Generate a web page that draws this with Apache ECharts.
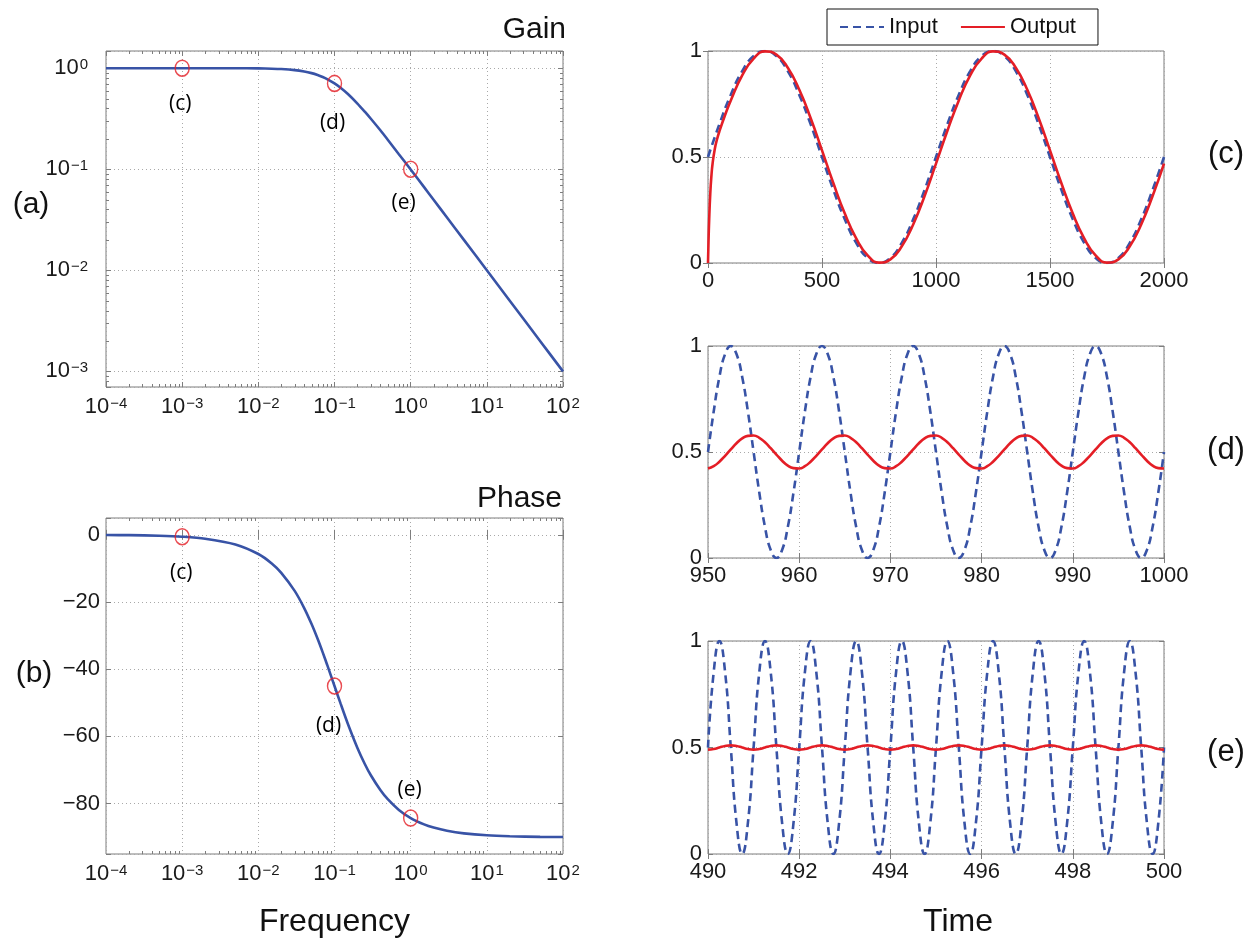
<!DOCTYPE html>
<html>
<head>
<meta charset="utf-8">
<script src="https://cdn.jsdelivr.net/npm/echarts@6.0.0/dist/echarts.min.js"></script>
<style>
html,body{margin:0;padding:0;background:#ffffff;}
#chart{width:1249px;height:941px;}
</style>
</head>
<body>
<div id="chart"></div>
<script>
// ---------------- data ----------------
// Bode plot (a) gain and (b) phase
const FREQ  = [1e-4, 2e-4, 5e-4, 1e-3, 2e-3, 5e-3, 0.01, 0.015, 0.02, 0.03, 0.04, 0.05, 0.06, 0.07, 0.08,
               0.1, 0.12, 0.15, 0.2, 0.25, 0.3, 0.4, 0.5, 0.7, 1, 1.5, 2, 3, 5, 10, 20, 50, 100];
const GAIN  = [1.0, 1.0, 1.0, 1.0, 0.9998, 0.9988, 0.995, 0.989, 0.981, 0.958, 0.928, 0.894, 0.857, 0.819, 0.781,
               0.707, 0.640, 0.555, 0.447, 0.371, 0.316, 0.243, 0.196, 0.141, 0.0995, 0.0665, 0.0499, 0.0333, 0.020, 0.010, 0.005, 0.002, 0.001];
const PHASE = [-0.06, -0.11, -0.29, -0.57, -1.15, -2.86, -5.71, -8.53, -11.31, -16.70, -21.80, -26.57, -30.96, -34.99, -38.66,
               -45.0, -50.19, -56.31, -63.43, -68.20, -71.57, -75.96, -78.69, -81.87, -84.29, -86.19, -87.14, -88.09, -88.85, -89.43, -89.71, -89.89, -89.94];
// red circled points
const MARK_FREQ  = [1e-3, 0.1, 1];
const MARK_GAIN  = [1.0, 0.707, 0.1];
const MARK_PHASE = [-0.57, -45, -84.3];
const MARK_NAMES = ['(c)', '(d)', '(e)'];
// log-axis tick exponents and minor multipliers
const X_EXPONENTS = [-4, -3, -2, -1, 0, 1, 2];
const Y_EXPONENTS = [-3, -2, -1, 0];
const MINOR_MULT = [2, 3, 4, 5, 6, 7, 8, 9];

// (c) time 0..2000
const T_C_IN = [0,50,100,150,200,250,300,350,400,450,500,550,600,650,700,750,800,850,900,950,
                1000,1050,1100,1150,1200,1250,1300,1350,1400,1450,1500,1550,1600,1650,1700,1750,1800,1850,1900,1950,2000];
const IN_C   = [0.5,0.655,0.794,0.905,0.976,1,0.976,0.905,0.794,0.655,0.5,0.345,0.206,0.095,0.024,0,0.024,0.095,0.206,0.345,
                0.5,0.655,0.794,0.905,0.976,1,0.976,0.905,0.794,0.655,0.5,0.345,0.206,0.095,0.024,0,0.024,0.095,0.206,0.345,0.5];
const T_C_OUT = [0,2,5,10,15,20,30,40,50,75,100,150,200,250,300,350,400,450,500,550,600,650,700,750,800,850,900,950,
                 1000,1050,1100,1150,1200,1250,1300,1350,1400,1450,1500,1550,1600,1650,1700,1750,1800,1850,1900,1950,2000];
const OUT_C  = [0,0.091,0.2,0.328,0.411,0.468,0.539,0.585,0.621,0.698,0.767,0.885,0.964,0.998,0.983,0.921,0.818,0.684,0.531,0.376,0.233,0.116,0.036,0.002,0.017,0.079,0.182,0.316,
                0.469,0.624,0.767,0.885,0.964,0.998,0.983,0.921,0.818,0.684,0.531,0.376,0.233,0.116,0.036,0.002,0.017,0.079,0.182,0.316,0.469];

// (d) time 950..1000
const T_D = [950,950.625,951.25,951.875,952.5,953.125,953.75,954.375,955,955.625,956.25,956.875,957.5,958.125,958.75,959.375,
             960,960.625,961.25,961.875,962.5,963.125,963.75,964.375,965,965.625,966.25,966.875,967.5,968.125,968.75,969.375,
             970,970.625,971.25,971.875,972.5,973.125,973.75,974.375,975,975.625,976.25,976.875,977.5,978.125,978.75,979.375,
             980,980.625,981.25,981.875,982.5,983.125,983.75,984.375,985,985.625,986.25,986.875,987.5,988.125,988.75,989.375,
             990,990.625,991.25,991.875,992.5,993.125,993.75,994.375,995,995.625,996.25,996.875,997.5,998.125,998.75,999.375,
             1000];
const IN_D = [0.5,0.691,0.854,0.962,1,0.962,0.854,0.691,0.5,0.309,0.146,0.038,0,0.038,0.146,0.309,
              0.5,0.691,0.854,0.962,1,0.962,0.854,0.691,0.5,0.309,0.146,0.038,0,0.038,0.146,0.309,
              0.5,0.691,0.854,0.962,1,0.962,0.854,0.691,0.5,0.309,0.146,0.038,0,0.038,0.146,0.309,
              0.5,0.691,0.854,0.962,1,0.962,0.854,0.691,0.5,0.309,0.146,0.038,0,0.038,0.146,0.309,
              0.5,0.691,0.854,0.962,1,0.962,0.854,0.691,0.5,0.309,0.146,0.038,0,0.038,0.146,0.309,
              0.5];
const OUT_D = [0.422,0.433,0.454,0.482,0.512,0.541,0.564,0.576,0.578,0.567,0.546,0.518,0.488,0.459,0.436,0.424,
               0.422,0.433,0.454,0.482,0.512,0.541,0.564,0.576,0.578,0.567,0.546,0.518,0.488,0.459,0.436,0.424,
               0.422,0.433,0.454,0.482,0.512,0.541,0.564,0.576,0.578,0.567,0.546,0.518,0.488,0.459,0.436,0.424,
               0.422,0.433,0.454,0.482,0.512,0.541,0.564,0.576,0.578,0.567,0.546,0.518,0.488,0.459,0.436,0.424,
               0.422,0.433,0.454,0.482,0.512,0.541,0.564,0.576,0.578,0.567,0.546,0.518,0.488,0.459,0.436,0.424,
               0.422];

// (e) time 490..500
const T_E = [490,490.125,490.25,490.375,490.5,490.625,490.75,490.875,
             491,491.125,491.25,491.375,491.5,491.625,491.75,491.875,
             492,492.125,492.25,492.375,492.5,492.625,492.75,492.875,
             493,493.125,493.25,493.375,493.5,493.625,493.75,493.875,
             494,494.125,494.25,494.375,494.5,494.625,494.75,494.875,
             495,495.125,495.25,495.375,495.5,495.625,495.75,495.875,
             496,496.125,496.25,496.375,496.5,496.625,496.75,496.875,
             497,497.125,497.25,497.375,497.5,497.625,497.75,497.875,
             498,498.125,498.25,498.375,498.5,498.625,498.75,498.875,
             499,499.125,499.25,499.375,499.5,499.625,499.75,499.875,
             500];
const IN_E = [0.5,0.854,1,0.854,0.5,0.146,0,0.146, 0.5,0.854,1,0.854,0.5,0.146,0,0.146,
              0.5,0.854,1,0.854,0.5,0.146,0,0.146, 0.5,0.854,1,0.854,0.5,0.146,0,0.146,
              0.5,0.854,1,0.854,0.5,0.146,0,0.146, 0.5,0.854,1,0.854,0.5,0.146,0,0.146,
              0.5,0.854,1,0.854,0.5,0.146,0,0.146, 0.5,0.854,1,0.854,0.5,0.146,0,0.146,
              0.5,0.854,1,0.854,0.5,0.146,0,0.146, 0.5,0.854,1,0.854,0.5,0.146,0,0.146,
              0.5];
const OUT_E = [0.49,0.493,0.5,0.507,0.51,0.507,0.5,0.493, 0.49,0.493,0.5,0.507,0.51,0.507,0.5,0.493,
               0.49,0.493,0.5,0.507,0.51,0.507,0.5,0.493, 0.49,0.493,0.5,0.507,0.51,0.507,0.5,0.493,
               0.49,0.493,0.5,0.507,0.51,0.507,0.5,0.493, 0.49,0.493,0.5,0.507,0.51,0.507,0.5,0.493,
               0.49,0.493,0.5,0.507,0.51,0.507,0.5,0.493, 0.49,0.493,0.5,0.507,0.51,0.507,0.5,0.493,
               0.49,0.493,0.5,0.507,0.51,0.507,0.5,0.493, 0.49,0.493,0.5,0.507,0.51,0.507,0.5,0.493,
               0.49];

// ---------------- styling ----------------
const FONT = '"Liberation Sans", Arial, Helvetica, sans-serif';
const MARK_FONT = '"Open Sans", "DejaVu Sans", sans-serif';
const AX = '#7d7d7d';
const TXT = '#1a1a1a';
const BLUE = '#3853a6';
const RED = '#e41e26';
const GRID_LINE = {show: true, lineStyle: {color: '#a9a9a9', width: 1, type: [1, 3]}};

const zip = (xs, ys) => xs.map((x, i) => [x, ys[i]]);

const MINOR_X = [];
X_EXPONENTS.slice(0, -1).forEach(e => MINOR_MULT.forEach(m => MINOR_X.push(m * Math.pow(10, e))));
const Y_MIN_A = 7.0e-4, Y_MAX_A = 1.48;
const MINOR_Y = [];
[-4].concat(Y_EXPONENTS.slice(0, -1)).forEach(e => MINOR_MULT.forEach(m => {
  const v = m * Math.pow(10, e);
  if (v > Y_MIN_A * 1.01 && v < Y_MAX_A) MINOR_Y.push(v);
}));

function logFmt(v) {
  const l = Math.log10(v);
  const e = Math.round(l);
  if (Math.abs(l - e) > 1e-6) return '';
  return '{b|10}{s|' + (e < 0 ? '\u2212' : '') + Math.abs(e) + '}';
}
const LOG_RICH = {
  b: {fontSize: 22, lineHeight: 22, fontFamily: FONT, color: TXT, verticalAlign: 'bottom'},
  s: {fontSize: 15, lineHeight: 15, padding: [0, 0, 13, 1], fontFamily: FONT, color: TXT, verticalAlign: 'top'}
};
const LIN_LABEL = {show: true, fontSize: 22, fontFamily: FONT, color: TXT, margin: 6, formatter: v => String(v)};

function axisPair(kind, gridIndex, base, label) {
  const tick = {show: true, inside: true, length: 5, lineStyle: {color: AX, width: 1}};
  const main = Object.assign({}, base, {
    gridIndex, position: kind === 'x' ? 'bottom' : 'left',
    axisLine: {show: false}, axisTick: tick, splitLine: GRID_LINE, axisLabel: label,
    axisPointer: {show: false}
  });
  const twin = Object.assign({}, base, {
    gridIndex, position: kind === 'x' ? 'top' : 'right',
    axisLine: {show: false}, axisTick: tick, splitLine: {show: false}, axisLabel: {show: false},
    axisPointer: {show: false}
  });
  return [main, twin];
}

const logX = {type: 'log', logBase: 10, min: 1e-4, max: 100};
const logXLabel = {show: true, margin: 9, formatter: logFmt, rich: LOG_RICH};
const timeXLabel = Object.assign({}, LIN_LABEL, {margin: 7});

const xAxis = [].concat(
  axisPair('x', 0, logX, logXLabel),
  axisPair('x', 1, logX, logXLabel),
  axisPair('x', 2, {type: 'value', min: 0, max: 2000, interval: 500}, timeXLabel),
  axisPair('x', 3, {type: 'value', min: 950, max: 1000, interval: 10}, timeXLabel),
  axisPair('x', 4, {type: 'value', min: 490, max: 500, interval: 2}, timeXLabel)
);
const timeY = {type: 'value', min: 0, max: 1, interval: 0.5};
const yAxis = [].concat(
  axisPair('y', 0, {type: 'log', logBase: 10, min: Y_MIN_A, max: Y_MAX_A},
           {show: true, margin: 18, formatter: logFmt, rich: LOG_RICH}),
  axisPair('y', 1, {type: 'value', min: -95, max: 5},
           Object.assign({}, LIN_LABEL, {formatter: v => (Math.abs(v % 20) < 1e-9 ? (v < 0 ? '\u2212' + (-v) : String(v)) : '')})),
  axisPair('y', 2, timeY, LIN_LABEL),
  axisPair('y', 3, timeY, LIN_LABEL),
  axisPair('y', 4, timeY, LIN_LABEL)
);

const grid = [
  {left: 106, top: 51, width: 457, height: 336},
  {left: 106, top: 518, width: 457, height: 336},
  {left: 708, top: 51, width: 456, height: 212},
  {left: 708, top: 346, width: 456, height: 212},
  {left: 708, top: 641, width: 456, height: 213}
].map(g => Object.assign({show: true, borderColor: AX, borderWidth: 1, backgroundColor: 'transparent',
                          containLabel: false, outerBoundsMode: 'none'}, g));

const A_LABEL_OFFSETS = [[-2, 36], [-2, 40], [-7, 34]];
const B_LABEL_OFFSETS = [[-1, 36], [-6, 40], [-1, -28]];

function markerSeries(ax, ys, offsets) {
  return {
    type: 'scatter', xAxisIndex: ax, yAxisIndex: ax, symbol: 'circle', symbolSize: [14, 16],
    silent: true, z: 6, animation: false,
    itemStyle: {color: 'rgba(0,0,0,0)', borderColor: RED, borderWidth: 1.5},
    label: {show: true, position: 'inside', formatter: p => MARK_NAMES[p.dataIndex],
            fontFamily: MARK_FONT, fontSize: 21, color: '#000', textBorderWidth: 0,
            textBorderColor: 'transparent', opacity: 1},
    data: MARK_FREQ.map((f, i) => ({value: [f, ys[i]], label: {offset: offsets[i], color: '#000'}}))
  };
}

function minorTickSeries(ax, yLo, yHi, withY) {
  return {
    type: 'custom', xAxisIndex: ax, yAxisIndex: ax, silent: true, z: 4, clip: false, animation: false,
    data: [[1, yLo < 0 ? -50 : 0.1]],
    renderItem: (params, api) => {
      const ch = [];
      const seg = (x1, y1, x2, y2) => ch.push({type: 'line', shape: {x1, y1, x2, y2},
                                                style: {stroke: AX, lineWidth: 1}});
      MINOR_X.forEach(v => {
        const b = api.coord([v, yLo]);
        const t = api.coord([v, yHi]);
        const x = Math.round(b[0]) + 0.5;
        seg(x, b[1], x, b[1] - 3);
        seg(x, t[1], x, t[1] + 3);
      });
      if (withY) {
        MINOR_Y.forEach(v => {
          const l = api.coord([1e-4, v]);
          const r = api.coord([100, v]);
          const y = Math.round(l[1]) + 0.5;
          seg(l[0], y, l[0] + 3, y);
          seg(r[0], y, r[0] - 3, y);
        });
      }
      return {type: 'group', children: ch};
    }
  };
}

function ioSeries(ax, tIn, vIn, tOut, vOut) {
  return [
    {type: 'line', name: 'Input', xAxisIndex: ax, yAxisIndex: ax, data: zip(tIn, vIn),
     symbol: 'none', smooth: 0.5, silent: true, animation: false, z: 2,
     lineStyle: {color: BLUE, width: 2.6, type: [8, 5]}, itemStyle: {color: BLUE}},
    {type: 'line', name: 'Output', xAxisIndex: ax, yAxisIndex: ax, data: zip(tOut, vOut),
     symbol: 'none', smooth: 0.5, silent: true, animation: false, z: 3,
     lineStyle: {color: RED, width: 2.6}, itemStyle: {color: RED}}
  ];
}

function T(text, x, y, align, size, family) {
  const fam = family || FONT;
  return {type: 'text', x, y, silent: true, z: 10,
          style: {text, fill: '#111', font: size + 'px ' + fam, fontSize: size, fontFamily: fam,
                  align, verticalAlign: 'middle', textAlign: align, textVerticalAlign: 'middle'}};
}

const series = [].concat(
  ioSeries(4, T_C_IN, IN_C, T_C_OUT, OUT_C),
  ioSeries(6, T_D, IN_D, T_D, OUT_D),
  ioSeries(8, T_E, IN_E, T_E, OUT_E),
  [
    {type: 'line', name: 'Gain', xAxisIndex: 0, yAxisIndex: 0, data: zip(FREQ, GAIN),
     symbol: 'none', smooth: 0.3, silent: true, animation: false, z: 3,
     lineStyle: {color: BLUE, width: 2.6}, itemStyle: {color: BLUE}},
    markerSeries(0, MARK_GAIN, A_LABEL_OFFSETS),
    minorTickSeries(0, Y_MIN_A, Y_MAX_A, true),
    {type: 'line', name: 'Phase', xAxisIndex: 2, yAxisIndex: 2, data: zip(FREQ, PHASE),
     symbol: 'none', smooth: 0.3, silent: true, animation: false, z: 3,
     lineStyle: {color: BLUE, width: 2.6}, itemStyle: {color: BLUE}},
    markerSeries(2, MARK_PHASE, B_LABEL_OFFSETS),
    minorTickSeries(2, -95, 5, false)
  ]
);

const option = {
  backgroundColor: '#ffffff',
  animation: false,
  grid, xAxis, yAxis, series,
  legend: {
    data: ['Input', 'Output'], left: 827, top: 9, orient: 'horizontal',
    itemWidth: 44, itemHeight: 12, itemGap: 22, padding: [7, 22, 7, 12],
    borderColor: '#111', borderWidth: 1, backgroundColor: '#ffffff', selectedMode: false,
    itemStyle: {color: 'rgba(0,0,0,0)', borderColor: 'rgba(0,0,0,0)', borderWidth: 0, opacity: 0},
    textStyle: {fontSize: 22, fontFamily: FONT, color: '#111'}
  },
  graphic: [
    T('Gain', 566, 30, 'right', 30),
    T('Phase', 562, 499, 'right', 30),
    T('Frequency', 334.5, 922, 'center', 32),
    T('Time', 958, 922, 'center', 32),
    T('(a)', 31, 205, 'center', 30),
    T('(b)', 34, 674, 'center', 30),
    T('(c)', 1226, 154, 'center', 31),
    T('(d)', 1226, 450, 'center', 31),
    T('(e)', 1226, 752, 'center', 31)
  ]
};

const chart = echarts.init(document.getElementById('chart'), null, {renderer: 'canvas'});
chart.setOption(option);
</script>
</body>
</html>
